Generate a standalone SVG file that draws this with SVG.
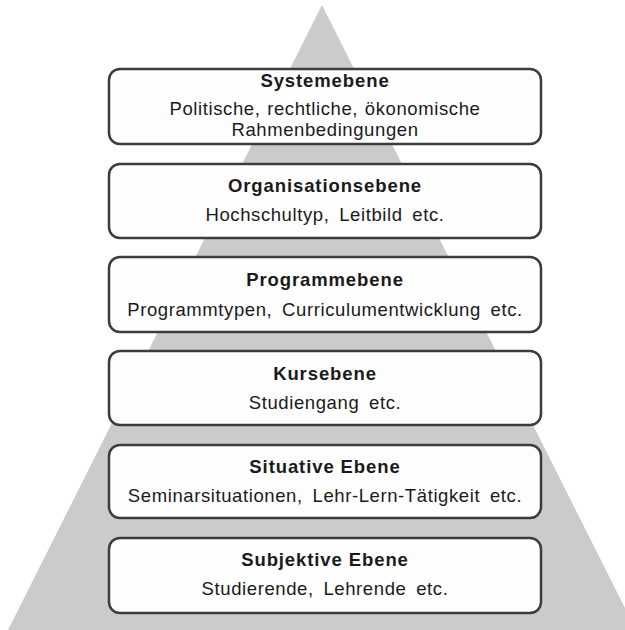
<svg xmlns="http://www.w3.org/2000/svg" width="625" height="630" viewBox="0 0 625 630">
<style>
.box{fill:#fefefe;stroke:#3c3c3c;stroke-width:2.5}
.t{font-family:"Liberation Sans",Arial,sans-serif;font-size:18.5px;font-weight:bold;fill:#1a1a1a;text-anchor:middle;letter-spacing:0.9px}
.s{font-family:"Liberation Sans",Arial,sans-serif;font-size:18.5px;fill:#1a1a1a;text-anchor:middle;letter-spacing:0.6px;word-spacing:4px}
</style>
<rect width="625" height="630" fill="#ffffff"/>
<polygon points="322,5 8,630 636,630" fill="#cbcbcb"/>
<g id="systemebene">
<rect class="box" x="109" y="69" width="432" height="75" rx="11"/>
<text class="t" x="325" y="87">Systemebene</text>
<text class="s" x="325" y="115" style="word-spacing:1px">Politische, rechtliche, ökonomische</text>
<text class="s" x="325" y="136" style="word-spacing:1px">Rahmenbedingungen</text>
</g>
<g id="organisationsebene">
<rect class="box" x="109" y="164" width="432" height="74" rx="11"/>
<text class="t" x="325" y="192">Organisationsebene</text>
<text class="s" x="325" y="220.5">Hochschultyp, Leitbild etc.</text>
</g>
<g id="programmebene">
<rect class="box" x="109" y="257" width="432" height="75" rx="11"/>
<text class="t" x="325" y="286">Programmebene</text>
<text class="s" x="325" y="316">Programmtypen, Curriculumentwicklung etc.</text>
</g>
<g id="kursebene">
<rect class="box" x="109" y="351" width="432" height="74" rx="11"/>
<text class="t" x="325" y="380">Kursebene</text>
<text class="s" x="325" y="409">Studiengang etc.</text>
</g>
<g id="situative-ebene">
<rect class="box" x="109" y="445" width="432" height="73" rx="11"/>
<text class="t" x="325" y="473">Situative Ebene</text>
<text class="s" x="325" y="502">Seminarsituationen, Lehr-Lern-Tätigkeit etc.</text>
</g>
<g id="subjektive-ebene">
<rect class="box" x="109" y="538" width="432" height="75" rx="11"/>
<text class="t" x="325" y="566">Subjektive Ebene</text>
<text class="s" x="325" y="595">Studierende, Lehrende etc.</text>
</g>
<g id="connectors"></g>
</svg>
